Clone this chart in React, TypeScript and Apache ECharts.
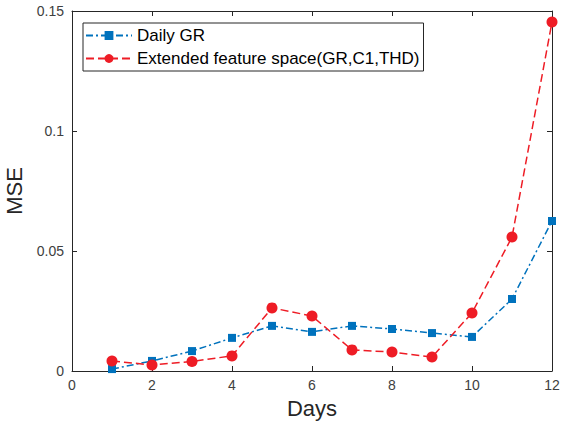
import React, { useEffect, useRef } from "react";
import * as echarts from "echarts";

const days = [1, 2, 3, 4, 5, 6, 7, 8, 9, 10, 11, 12];
const dailyGR = [0.0008, 0.0042, 0.0083, 0.0138, 0.0188, 0.0163, 0.0188, 0.0175, 0.0158, 0.0142, 0.030, 0.0625];
const extended = [0.0042, 0.0025, 0.004, 0.0063, 0.0263, 0.0229, 0.0088, 0.0079, 0.0058, 0.0242, 0.0558, 0.1454];
const seriesNames = ["Daily GR", "Extended feature space(GR,C1,THD)"];
const xTicks = [0, 2, 4, 6, 8, 10, 12];
const yTicks = [0, 0.05, 0.1, 0.15];

const FONT = "'Liberation Sans', Arial, Helvetica, sans-serif";
const AX = "#262626";

export default function App() {
  const ref = useRef<HTMLDivElement>(null);
  useEffect(() => {
    if (!ref.current) return;
    const chart = echarts.init(ref.current, null, { renderer: "svg" });
    const yLabel = (v: number) => {
      const s = yTicks.find((t) => Math.abs(t - v) < 1e-9);
      return s === undefined ? "" : String(s);
    };
    const xLabel = (v: number) => {
      const s = xTicks.find((t) => Math.abs(t - v) < 1e-9);
      return s === undefined ? "" : String(s);
    };
    const tickCommon = { inside: true, length: 5, lineStyle: { color: AX } };
    chart.setOption({
      animation: false,
      backgroundColor: "#fff",
      textStyle: { fontFamily: FONT },
      grid: { left: 72, right: 10, top: 11, bottom: 57, containLabel: false, outerBoundsMode: "none" },
      legend: {
        data: seriesNames,
        orient: "vertical",
        left: 83,
        top: 23,
        backgroundColor: "#fff",
        borderColor: AX,
        borderWidth: 1,
        borderRadius: 0,
        padding: [4, 4, 4, 2],
        itemWidth: 46,
        itemHeight: 11,
        itemGap: 6,
        textStyle: { fontSize: 17, color: "#000", fontFamily: FONT },
      },
      xAxis: [
        {
          type: "value",
          min: 0,
          max: 12,
          interval: 2,
          name: "Days",
          nameLocation: "middle",
          nameGap: 26,
          nameTextStyle: { fontSize: 22, color: AX, fontFamily: FONT },
          axisLine: { show: true, onZero: false, lineStyle: { color: AX, width: 1 } },
          axisTick: tickCommon,
          axisLabel: { fontSize: 14, color: "#404040", margin: 7, fontFamily: FONT, formatter: xLabel },
          splitLine: { show: false },
        },
        {
          type: "value",
          position: "top",
          min: 0,
          max: 12,
          interval: 2,
          axisLine: { show: true, onZero: false, lineStyle: { color: AX, width: 1 } },
          axisTick: tickCommon,
          axisLabel: { show: false },
          splitLine: { show: false },
        },
      ],
      yAxis: [
        {
          type: "value",
          min: 0,
          max: 0.15,
          interval: 0.05,
          name: "MSE",
          nameLocation: "middle",
          nameGap: 40,
          nameTextStyle: { fontSize: 22, color: AX, fontFamily: FONT },
          axisLine: { show: true, onZero: false, lineStyle: { color: AX, width: 1 } },
          axisTick: tickCommon,
          axisLabel: { fontSize: 14, color: "#404040", margin: 8, fontFamily: FONT, formatter: yLabel },
          splitLine: { show: false },
        },
        {
          type: "value",
          position: "right",
          min: 0,
          max: 0.15,
          interval: 0.05,
          axisLine: { show: true, onZero: false, lineStyle: { color: AX, width: 1 } },
          axisTick: tickCommon,
          axisLabel: { show: false },
          splitLine: { show: false },
        },
      ],
      series: [
        {
          name: seriesNames[0],
          type: "line",
          data: days.map((d, i) => [d, dailyGR[i]]),
          symbol: "rect",
          symbolSize: 8,
          itemStyle: { color: "#0072BD" },
          lineStyle: { color: "#0072BD", width: 1.5, type: [7, 3, 2, 3] },
          z: 3,
        },
        {
          name: seriesNames[1],
          type: "line",
          data: days.map((d, i) => [d, extended[i]]),
          symbol: "circle",
          symbolSize: 11,
          itemStyle: { color: "#EE1C25" },
          lineStyle: { color: "#EE1C25", width: 1.5, type: [8, 4] },
          z: 4,
        },
      ],
    });
    return () => chart.dispose();
  }, []);
  return <div ref={ref} style={{ position: "fixed", left: 0, top: 0, width: 562, height: 428 }} />;
}
